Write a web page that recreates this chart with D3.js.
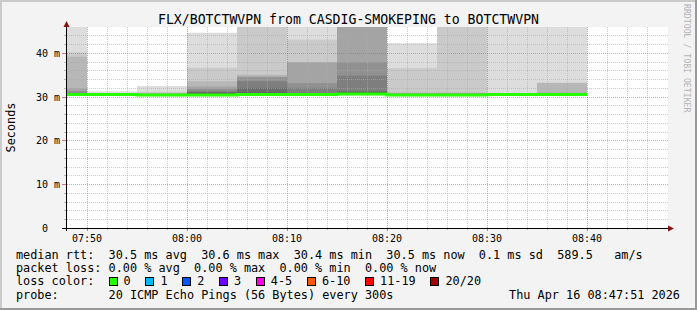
<!DOCTYPE html>
<html>
<head>
<meta charset="utf-8">
<script src="https://cdn.jsdelivr.net/npm/d3@7"></script>
<style>
html, body { margin: 0; padding: 0; background: #f3f3f3; }
svg { display: block; }
text { font-family: "DejaVu Sans Mono", monospace; }
</style>
</head>
<body>
<svg id="chart"></svg>
<script>
// ---- data ----
const day = "2026-04-16";
const viewStart = "07:48";
const viewEnd = "08:48";
const stepMinutes = 5;

// end time of each 300s slot
const slotEnds = ["07:50", "07:55", "08:00", "08:05", "08:10", "08:15",
                  "08:20", "08:25", "08:30", "08:35", "08:40"];

// median rtt per slot, ms
const medians = [30.5, 30.5, 30.4, 30.4, 30.5, 30.5, 30.6, 30.4, 30.4, 30.5, 30.5];

// 20 sorted ping rtts per slot, ms (values above the graph top are clipped)
const pings = [
  [30.2, 30.3, 30.3, 30.4, 30.4, 30.4, 30.4, 30.5, 30.5, 30.5, 30.6, 30.6, 30.7, 30.8, 30.9, 31.3, 31.9, 39.1, 40.1, 58.0],
  [30.2, 30.3, 30.3, 30.4, 30.4, 30.4, 30.4, 30.5, 30.5, 30.5, 30.5, 30.5, 30.6, 30.6, 30.6, 30.6, 30.7, 30.7, 30.8, 31.2],
  [30.2, 30.3, 30.3, 30.3, 30.3, 30.4, 30.4, 30.4, 30.4, 30.4, 30.4, 30.5, 30.5, 30.5, 30.6, 30.6, 30.7, 30.8, 31.1, 32.4],
  [30.2, 30.2, 30.3, 30.3, 30.3, 30.4, 30.4, 30.4, 30.4, 30.4, 30.5, 30.6, 30.8, 31.0, 31.3, 31.8, 32.3, 33.5, 36.6, 44.6],
  [30.2, 30.2, 30.3, 30.3, 30.4, 30.4, 30.4, 30.5, 30.5, 30.5, 30.6, 30.7, 30.9, 32.0, 33.5, 34.4, 34.6, 35.0, 48.0, 62.0],
  [30.2, 30.3, 30.3, 30.4, 30.4, 30.4, 30.5, 30.5, 30.5, 30.5, 30.6, 30.7, 30.7, 30.8, 32.0, 33.1, 37.8, 37.9, 43.0, 52.0],
  [30.3, 30.3, 30.4, 30.4, 30.5, 30.5, 30.5, 30.6, 30.6, 30.6, 30.8, 30.9, 31.0, 31.2, 34.8, 37.9, 48.0, 55.0, 65.0, 70.0],
  [30.2, 30.2, 30.3, 30.3, 30.3, 30.4, 30.4, 30.4, 30.4, 30.4, 30.5, 30.5, 30.6, 30.6, 30.6, 30.7, 30.7, 30.9, 36.5, 42.2],
  [30.2, 30.2, 30.3, 30.3, 30.3, 30.4, 30.4, 30.4, 30.4, 30.4, 30.5, 30.5, 30.5, 30.6, 30.6, 30.7, 30.8, 30.9, 47.0, 55.0],
  [30.2, 30.3, 30.3, 30.4, 30.4, 30.4, 30.5, 30.5, 30.5, 30.5, 30.5, 30.6, 30.6, 30.6, 30.7, 30.7, 30.7, 30.7, 30.8, 50.0],
  [30.2, 30.3, 30.3, 30.4, 30.4, 30.4, 30.5, 30.5, 30.5, 30.5, 30.5, 30.6, 30.6, 30.6, 30.7, 30.7, 30.9, 33.1, 33.2, 48.0]
];

const yTicks = [0, 10, 20, 30, 40];
const timeLabels = ["07:50", "08:00", "08:10", "08:20", "08:30", "08:40"];

const lossLabels = ["0", "1", "2", "3", "4-5", "6-10", "11-19", "20/20"];
const lossColors = ["#26ff00", "#00b8ff", "#0059ff", "#7000ff", "#ff00ea", "#ff5a00", "#ff0000", "#a10000"];

const titleText = "FLX/BOTCTWVPN from CASDIG-SMOKEPING to BOTCTWVPN";
const sdText = "0.1";
const amsText = "589.5";
const lossStats = [0, 0, 0, 0];
const probeText = "20 ICMP Echo Pings (56 Bytes) every 300s";
const stampText = "Thu Apr 16 08:47:51 2026";

// ---- layout ----
const width = 697;
const height = 310;
const plotL = 67, plotR = 668, plotT = 27, plotB = 228;
const legendFont = 11.83;
const charW = legendFont * 0.602;
const legendX = 16;

const parse = d3.timeParse("%Y-%m-%d %H:%M");
const t = s => parse(`${day} ${s}`);

const yMax = d3.max(medians) * 1.5;

const x = d3.scaleTime()
  .domain([t(viewStart), t(viewEnd)])
  .range([plotL, 667]);

const y = d3.scaleLinear()
  .domain([0, yMax])
  .range([plotB, plotT]);

const svg = d3.select("#chart")
  .attr("width", width)
  .attr("height", height);

// frame
svg.append("rect")
  .attr("width", width).attr("height", height)
  .attr("fill", "#f3f3f3");
svg.append("path")
  .attr("d", `M0,0H${width}V2H2V${height}H0Z`)
  .attr("fill", "#cbcbcb");
svg.append("path")
  .attr("d", `M${width},${height}H0V${height - 2}H${width - 2}V0H${width}Z`)
  .attr("fill", "#999999");

// canvas
svg.append("rect")
  .attr("x", plotL).attr("y", plotT)
  .attr("width", plotR - plotL).attr("height", plotB - plotT)
  .attr("fill", "white");

svg.append("clipPath")
  .attr("id", "plot-clip")
  .append("rect")
  .attr("x", plotL).attr("y", plotT)
  .attr("width", plotR - plotL).attr("height", plotB - plotT);

// smoke
const slots = slotEnds.map((s, i) => ({
  end: t(s),
  start: d3.timeMinute.offset(t(s), -stepMinutes),
  median: medians[i],
  pings: pings[i]
}));

const half = 10;
const smokeG = svg.append("g").attr("clip-path", "url(#plot-clip)");
slots.forEach(slot => {
  for (let k = 1; k <= half; k++) {
    const lo = slot.pings[k - 1];
    const hi = slot.pings[20 - k];
    const c = Math.floor(190 / half * (half - k)) + 50;
    smokeG.append("rect")
      .attr("x", x(slot.start))
      .attr("width", x(slot.end) - x(slot.start))
      .attr("y", y(hi))
      .attr("height", Math.max(0, y(lo) - y(hi)))
      .attr("fill", d3.rgb(c, c, c));
  }
});

// grid
const gridG = svg.append("g").attr("shape-rendering", "crispEdges");
const hLines = d3.range(2, yMax, 2);
hLines.forEach(v => {
  const major = v % 10 === 0;
  const yy = Math.round(y(v)) + 0.5;
  gridG.append("line")
    .attr("x1", plotL).attr("x2", plotR)
    .attr("y1", yy).attr("y2", yy)
    .attr("stroke", major ? "rgba(222,80,80,0.55)" : "rgba(170,170,170,0.6)")
    .attr("stroke-dasharray", "1,1");
  gridG.append("line")
    .attr("x1", major ? 62 : 64).attr("x2", plotL)
    .attr("y1", yy).attr("y2", yy)
    .attr("stroke", major ? "rgba(222,80,80,0.8)" : "rgba(170,170,170,0.8)");
});

const vLines = d3.timeMinute.every(2).range(d3.timeMinute.offset(t(viewStart), 2), t(viewEnd));
vLines.forEach(d => {
  const major = d.getMinutes() % 10 === 0;
  const xx = Math.round(x(d)) + 0.5;
  gridG.append("line")
    .attr("x1", xx).attr("x2", xx)
    .attr("y1", plotT).attr("y2", plotB)
    .attr("stroke", major ? "rgba(222,80,80,0.55)" : "rgba(170,170,170,0.6)")
    .attr("stroke-dasharray", "1,1");
  gridG.append("line")
    .attr("x1", xx).attr("x2", xx)
    .attr("y1", plotB).attr("y2", plotB + (major ? 3 : 2))
    .attr("stroke", major ? "rgba(222,80,80,0.8)" : "rgba(170,170,170,0.8)");
});

// median line
const medPts = slots.map(s => [s.start, s.median]);
medPts.push([slots[slots.length - 1].end, slots[slots.length - 1].median]);
const medLine = d3.line()
  .x(d => x(d[0]))
  .y(d => y(d[1]))
  .curve(d3.curveStepAfter);
svg.append("path")
  .attr("clip-path", "url(#plot-clip)")
  .attr("d", medLine(medPts))
  .attr("fill", "none")
  .attr("stroke", lossColors[0])
  .attr("stroke-width", 3);

// axes
svg.append("line")
  .attr("x1", 62).attr("x2", plotR)
  .attr("y1", plotB + 0.5).attr("y2", plotB + 0.5)
  .attr("stroke", "black");
svg.append("line")
  .attr("x1", plotL - 0.5).attr("x2", plotL - 0.5)
  .attr("y1", plotB + 3).attr("y2", plotT)
  .attr("stroke", "black");
svg.append("path")
  .attr("d", `M${plotR},${plotB - 2.5}L${plotR + 6},${plotB + 0.5}L${plotR},${plotB + 3.5}Z`)
  .attr("fill", "#8b1010");
svg.append("path")
  .attr("d", `M${plotL - 3.5},${plotT}L${plotL - 0.5},${plotT - 6}L${plotL + 2.5},${plotT}Z`)
  .attr("fill", "#8b1010");

// y labels
svg.append("g")
  .selectAll("text")
  .data(yTicks)
  .join("text")
  .attr("x", d => d === 0 ? 60 - 2 * 6.02 : 60)
  .attr("y", d => y(d) + 4)
  .attr("text-anchor", "end")
  .attr("font-size", "10px")
  .attr("fill", "black")
  .text(d => d === 0 ? "0" : `${d} m`);

// x labels
svg.append("g")
  .selectAll("text")
  .data(timeLabels)
  .join("text")
  .attr("x", d => x(t(d)))
  .attr("y", 241.5)
  .attr("text-anchor", "middle")
  .attr("font-size", "10px")
  .attr("fill", "black")
  .text(d => d);

// title
svg.append("text")
  .attr("x", width / 2)
  .attr("y", 24)
  .attr("text-anchor", "middle")
  .attr("font-size", "13.2px")
  .text(titleText);

// vertical label
svg.append("text")
  .attr("transform", `translate(14.5, ${(plotT + plotB) / 2}) rotate(-90)`)
  .attr("text-anchor", "middle")
  .attr("font-size", `${legendFont}px`)
  .text("Seconds");

// watermark
svg.append("text")
  .attr("transform", "translate(684, 4) rotate(90)")
  .attr("font-size", "8.2px")
  .attr("fill", "#b4b4b4")
  .text("RRDTOOL / TOBI OETIKER");

// legend
const f1 = d3.format(".1f");
const f2 = d3.format(".2f");
const medStats = [d3.mean(medians), d3.max(medians), d3.min(medians), medians[medians.length - 1]];
const lines = [
  `median rtt:  ${f1(medStats[0])} ms avg  ${f1(medStats[1])} ms max  ${f1(medStats[2])} ms min  ${f1(medStats[3])} ms now  ${sdText} ms sd  ${amsText}   am/s`,
  `packet loss: ${f2(lossStats[0])} % avg  ${f2(lossStats[1])} % max  ${f2(lossStats[2])} % min  ${f2(lossStats[3])} % now`,
  "loss color:",
  `probe:       ${probeText}`
];
const baseY = 258.5, lineH = 13.45;
lines.forEach((s, i) => {
  svg.append("text")
    .attr("x", legendX)
    .attr("y", baseY + i * lineH)
    .attr("font-size", `${legendFont}px`)
    .style("white-space", "pre")
    .text(s);
});

svg.append("text")
  .attr("x", 680)
  .attr("y", baseY + 3 * lineH)
  .attr("text-anchor", "end")
  .attr("font-size", `${legendFont}px`)
  .text(stampText);

let cx = legendX + 13 * charW;
const boxY = baseY + 2 * lineH - 8.5;
lossLabels.forEach((lab, i) => {
  svg.append("rect")
    .attr("x", Math.round(cx) + 0.5)
    .attr("y", Math.round(boxY) + 0.5)
    .attr("width", 8).attr("height", 8)
    .attr("fill", lossColors[i])
    .attr("stroke", "black");
  svg.append("text")
    .attr("x", cx + 15)
    .attr("y", baseY + 2 * lineH)
    .attr("font-size", `${legendFont}px`)
    .text(lab);
  cx = cx + 15 + lab.length * charW + 14.7;
});
</script>
</body>
</html>
